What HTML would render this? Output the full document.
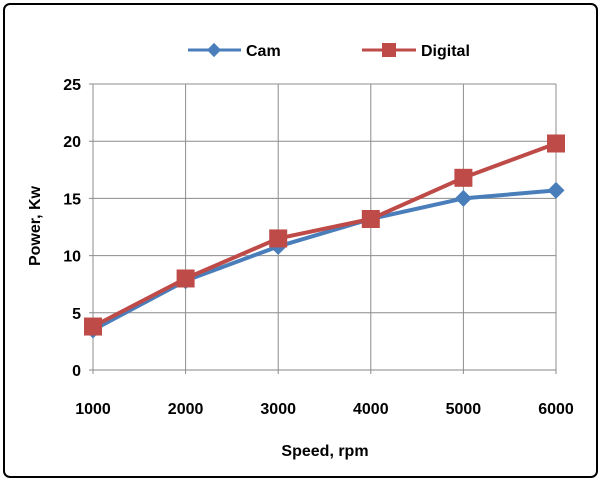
<!DOCTYPE html>
<html><head><meta charset="utf-8"><style>
body{margin:0;background:#fff;}
svg{display:block;font-family:"Liberation Sans",sans-serif;}
</style></head><body>
<svg id="c" width="603" height="485">
<rect x="4" y="4" width="593" height="473" rx="6" fill="#fff" stroke="#000" stroke-width="2"/>
<g id="grid"></g><g id="series"></g>
<g>
 <g>
  <line x1="188" y1="50" x2="241" y2="50" stroke="#4a7ebb" stroke-width="3"/>
  <rect x="209" y="45" width="10" height="10" fill="#4a7ebb" transform="rotate(45 214 50)"/>
  <text x="246" y="56" font-size="16" font-weight="bold" fill="#000">Cam</text>
 </g>
 <g>
  <line x1="362" y1="50" x2="416" y2="50" stroke="#be4b48" stroke-width="3"/>
  <rect x="382" y="43" width="14" height="14" fill="#be4b48"/>
  <text x="421" y="56" font-size="16" font-weight="bold" fill="#000">Digital</text>
 </g>
</g>
<text x="325" y="456" text-anchor="middle" font-size="16" font-weight="bold">Speed, rpm</text>
<text transform="translate(40 226) rotate(-90)" text-anchor="middle" font-size="16" font-weight="bold">Power, Kw</text>
</svg>
<script>
const categories=[1000,2000,3000,4000,5000,6000];
const camValues=[3.5,7.8,10.8,13.2,15.0,15.7];
const digitalValues=[3.8,8.0,11.5,13.2,16.8,19.8];
const yTicks=[0,5,10,15,20,25];
const NS="http://www.w3.org/2000/svg";
const x0=93,x1=556,yTop=84,yBot=370;
function xs(i){return x0+i*(x1-x0)/(categories.length-1);}
function ys(v){return yBot-v/25*(yBot-yTop);}
function mk(t,a,p){const e=document.createElementNS(NS,t);for(const k in a)e.setAttribute(k,a[k]);p.appendChild(e);return e;}
const g=document.getElementById('grid'),s=document.getElementById('series');
yTicks.forEach(v=>{
 const l=mk('line',{x1:x0-4,x2:x1,y1:ys(v),y2:ys(v),stroke:v===0?'#868686':'#8c8c8c','stroke-width':1},g);
 
 
 const t=mk('text',{x:x0-12,y:ys(v)+6,'text-anchor':'end','font-size':16,'font-weight':'bold'},g);
 t.textContent=v;
 
 
});
categories.forEach((c,i)=>{
 const l=mk('line',{x1:xs(i),x2:xs(i),y1:yTop,y2:yBot+4,stroke:'#8c8c8c','stroke-width':1},g);
 
 
 const t=mk('text',{x:xs(i),y:yBot+44,'text-anchor':'middle','font-size':16,'font-weight':'bold'},g);
 t.textContent=c;
 
 
});
function series(vals,col,name,marker){
 const p=mk('polyline',{points:vals.map((v,i)=>xs(i)+','+ys(v)).join(' '),fill:'none',stroke:col,'stroke-width':4,'stroke-linejoin':'round'},s);
 
 
 vals.forEach((v,i)=>{
  let m;
  if(marker==='d'){m=mk('rect',{x:xs(i)-6,y:ys(v)-6,width:12,height:12,fill:col,transform:`rotate(45 ${xs(i)} ${ys(v)})`},s);}
  else{m=mk('rect',{x:xs(i)-9,y:ys(v)-9,width:18,height:18,fill:col},s);}
  
  
 });
}
series(camValues,'#4a7ebb','cam','d');
series(digitalValues,'#be4b48','digital','s');
</script>
</body></html>
